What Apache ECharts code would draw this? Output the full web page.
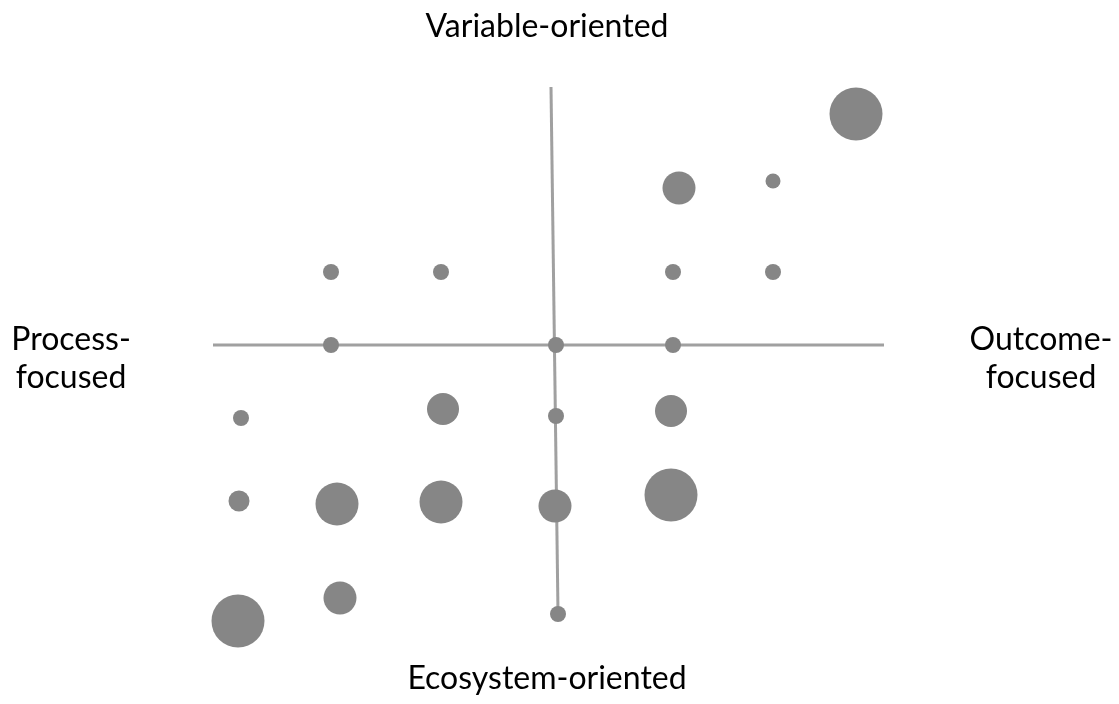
<!DOCTYPE html>
<html>
<head>
<meta charset="utf-8">
<script src="https://cdn.jsdelivr.net/npm/echarts@6/dist/echarts.min.js"></script>
<style>
html,body{margin:0;padding:0;background:#fff;}
#chart{width:1119px;height:704px;}
</style>
</head>
<body>
<div id="chart"></div>
<script>
// Bubble positions (x: Process(-) -> Outcome(+), y: Ecosystem(-) -> Variable(+)) and sizes
const bubbleX = [3.00, 1.23, 2.17, -2.25, -1.15, 1.17, 2.17, -2.25, 0.00, 1.17, -3.15, -1.13, 0.00, 1.15, -3.17, -2.19, -1.15, -0.01, 1.15, -3.18, -2.16, 0.02];
const bubbleY = [2.31, 1.57, 1.64, 0.73, 0.73, 0.73, 0.73, 0.00, 0.00, 0.00, -0.73, -0.64, -0.71, -0.66, -1.56, -1.59, -1.57, -1.61, -1.50, -2.76, -2.53, -2.69];
const bubbleSize = [53, 33, 15, 16, 16, 16, 16, 16, 16, 16, 16, 32, 16, 32, 21, 43, 43, 33, 53, 53, 33, 16];

// Axis lines (endpoints)
const hAxisLine = [[-3.43, 0], [3.28, 0]];
const vAxisLine = [[-0.05, 2.58], [0.02, -2.68]];

// Quadrant labels
const labelTop = 'Variable-oriented';
const labelBottom = 'Ecosystem-oriented';
const labelLeft = 'Process-\nfocused';
const labelRight = 'Outcome-\nfocused';

const data = bubbleX.map((x, i) => [x, bubbleY[i], bubbleSize[i]]);

const chart = echarts.init(document.getElementById('chart'), null, {renderer: 'canvas'});
const lineStyle = {color: '#a0a0a0', width: 3};
const font = 'Lato, "Open Sans", sans-serif';
chart.setOption({
  animation: false,
  backgroundColor: '#fff',
  grid: {left: 0, right: 0, top: 0, bottom: 0},
  xAxis: {type: 'value', min: -5.56, max: 5.63, show: false},
  yAxis: {type: 'value', min: -3.59, max: 3.45, show: false},
  series: [
    {type: 'line', data: hAxisLine, symbol: 'none', lineStyle: lineStyle, z: 1, silent: true},
    {type: 'line', data: vAxisLine, symbol: 'none', lineStyle: lineStyle, z: 1, silent: true},
    {
      type: 'scatter', data: data, z: 2,
      symbolSize: v => v[2],
      itemStyle: {color: '#868686', opacity: 1}
    }
  ],
  graphic: [
    {type: 'text', x: 547, y: 27, style: {text: labelTop, font: '32px ' + font, fill: '#000', align: 'center', verticalAlign: 'middle'}},
    {type: 'text', x: 547, y: 679, style: {text: labelBottom, font: '32px ' + font, fill: '#000', align: 'center', verticalAlign: 'middle'}},
    {type: 'text', x: 71, y: 359, style: {text: labelLeft, font: '32px ' + font, lineHeight: 38, fill: '#000', align: 'center', verticalAlign: 'middle'}},
    {type: 'text', x: 1041, y: 359, style: {text: labelRight, font: '32px ' + font, lineHeight: 38, fill: '#000', align: 'center', verticalAlign: 'middle'}}
  ]
});
</script>
</body>
</html>
